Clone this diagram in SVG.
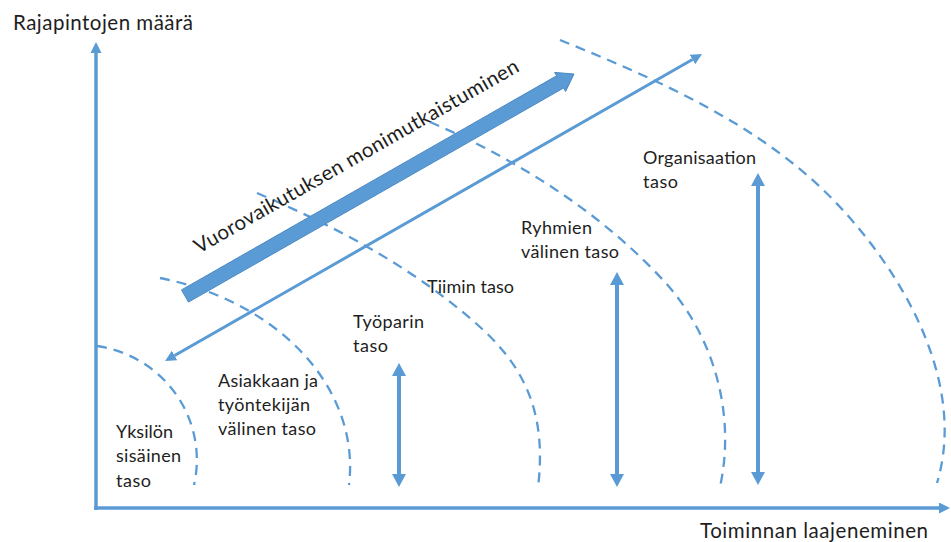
<svg xmlns="http://www.w3.org/2000/svg" width="951" height="542" viewBox="0 0 951 542">
<style>
.arc{fill:none;stroke:#5b9bd5;stroke-width:2.3;stroke-dasharray:10 7}
.ax{fill:none;stroke:#5b9bd5;stroke-width:3.5}
.va{fill:none;stroke:#5b9bd5;stroke-width:4}
.thin{fill:none;stroke:#5b9bd5;stroke-width:3}
text{font-family:Lato,"Open Sans","Liberation Sans",sans-serif;fill:#1e1e1e}
.lb{font-size:18px}
.big{font-size:20.5px}
</style>
<defs>
<marker id="hv" markerUnits="userSpaceOnUse" markerWidth="13" markerHeight="14" refX="0" refY="7" orient="auto-start-reverse" viewBox="0 0 13 14">
<path d="M0,0 L13,7 L0,14 z" fill="#5b9bd5"/>
</marker>
<marker id="ha" markerUnits="userSpaceOnUse" markerWidth="11" markerHeight="11" refX="0" refY="5.5" orient="auto-start-reverse" viewBox="0 0 11 11">
<path d="M0,0 L11,5.5 L0,11 z" fill="#5b9bd5"/>
</marker>
</defs>
<rect width="951" height="542" fill="#ffffff"/>
<g id="arcs">
<path class="arc" d="M97,346 A117,115 0 0 1 194,485"/>
<path class="arc" d="M160,278 A253,195 0 0 1 349,485"/>
<path class="arc" d="M257,193 C337,227 416,269 480,327 C530,372 546,420 538,488"/>
<path class="arc" d="M430,122 C516,159 599,211 663,280 C714,335 736,414 720,487"/>
<path class="arc" d="M560,40 C661,81 766,127 840,207 C908,280 966,387 937,483"/>
</g>
<g id="connectors">
<line class="ax" x1="96" y1="510" x2="96" y2="53" marker-end="url(#ha)"/>
<line class="ax" x1="94" y1="508" x2="939" y2="508" marker-end="url(#ha)"/>
<line class="thin" x1="174.6" y1="355.5" x2="692.5" y2="59.5" marker-start="url(#ha)" marker-end="url(#ha)"/>
<line class="va" x1="399" y1="376" x2="399" y2="474" marker-start="url(#hv)" marker-end="url(#hv)"/>
<line class="va" x1="617" y1="285" x2="617" y2="474" marker-start="url(#hv)" marker-end="url(#hv)"/>
<line class="va" x1="758" y1="186" x2="758" y2="472" marker-start="url(#hv)" marker-end="url(#hv)"/>
<polygon id="thick-arrow" points="188.5,302.1 181.5,289.9 556.6,75.8 554.6,72.4 574,74 565.6,91.5 563.6,88.0" fill="#5b9bd5" stroke="#4a89c4" stroke-width="1"/>
</g>
<g id="label-y"><text class="big" x="13" y="30" textLength="180">Rajapintojen määrä</text></g>
<g id="label-x"><text class="big" x="700" y="538" textLength="228">Toiminnan laajeneminen</text></g>
<g id="label-trend"><text class="big" transform="translate(199,254) rotate(-29.7)" textLength="370">Vuorovaikutuksen monimutkaistuminen</text></g>
<g id="node-yksilo">
<text class="lb" x="116" y="438" textLength="57">Yksilön</text>
<text class="lb" x="116" y="462" textLength="65">sisäinen</text>
<text class="lb" x="116" y="487" textLength="35">taso</text>
</g>
<g id="node-asiakas">
<text class="lb" x="218" y="387" textLength="100">Asiakkaan ja</text>
<text class="lb" x="218" y="411" textLength="92">työntekijän</text>
<text class="lb" x="218" y="435" textLength="98">välinen taso</text>
</g>
<g id="node-tyopari">
<text class="lb" x="353" y="328" textLength="71">Työparin</text>
<text class="lb" x="353" y="352" textLength="35">taso</text>
</g>
<g id="node-tiimi"><text class="lb" x="427" y="293" textLength="87">Tiimin taso</text></g>
<g id="node-ryhma">
<text class="lb" x="521" y="234" textLength="71">Ryhmien</text>
<text class="lb" x="521" y="258" textLength="98">välinen taso</text>
</g>
<g id="node-org">
<text class="lb" x="643" y="164" textLength="113">Organisaation</text>
<text class="lb" x="643" y="188" textLength="35">taso</text>
</g>
</svg>
